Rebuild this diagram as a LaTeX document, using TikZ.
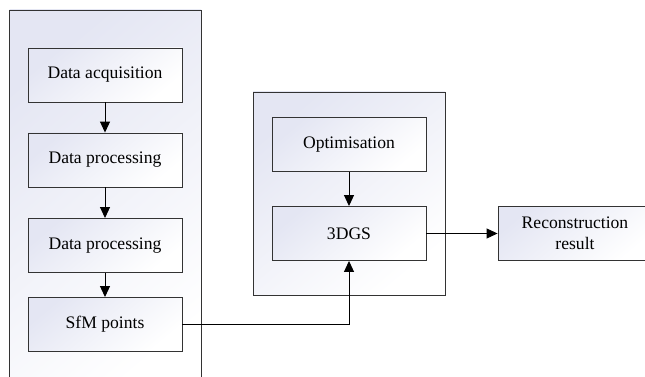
\documentclass[tikz,border=0pt]{standalone}
\usepackage{fontspec}
\setmainfont{Liberation Serif}
\newfontfamily\tnr{Liberation Serif}
\usetikzlibrary{arrows.meta}
\definecolor{edge}{HTML}{333333}
\definecolor{shadeA}{HTML}{E4E6F3}
\tikzset{
  grad/.style={top color=shadeA, bottom color=white, shading angle=40},
  box/.style={draw=edge, line width=0.9pt, grad, minimum width=154pt, minimum height=54pt,
    inner sep=2pt, align=center, font=\tnr\fontsize{17.6}{21}\selectfont},
  container/.style={draw=edge, line width=0.9pt, grad},
  link/.style={draw=black, line width=1pt, -{Triangle[length=11pt,width=10pt]}}
}
\begin{document}
\begin{tikzpicture}[x=1pt,y=1pt]
\useasboundingbox (0,0) rectangle (645,377);
\clip (0,0) rectangle (645,377);
\fill[white] (0,0) rectangle (645,377);
% containers
\path[container] (9.5,-20) rectangle (201,367);
\path[container] (253,285) rectangle (445,82);
% nodes
\node[box] (acq) at (105,302) {Data acquisition};
\node[box] (proc1) at (105,217) {Data processing};
\node[box] (proc2) at (105,131.5) {Data processing};
\node[box] (sfm) at (105,52.5) {SfM points};
\node[box] (opt) at (349,232.5) {Optimisation};
\node[box] (gs) at (349,143.5) {3DGS};
\node[box] (rec) at (575,143.5) {Reconstruction\\result};
% connectors
\draw[link] (acq) -- (proc1);
\draw[link] (proc1) -- (proc2);
\draw[link] (proc2) -- (sfm);
\draw[link] (opt) -- (gs);
\draw[link] (gs) -- (rec);
\draw[link] (sfm.east) -| (gs.south);
\end{tikzpicture}
\end{document}
